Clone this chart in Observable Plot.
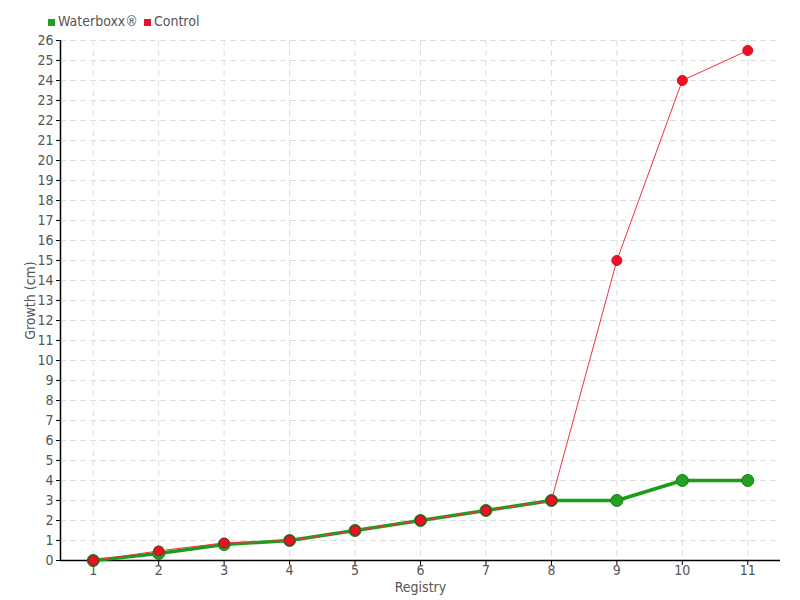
<!DOCTYPE html>
<html><head><meta charset="utf-8">
<script src="https://cdn.jsdelivr.net/npm/d3@7"></script>
<script src="https://cdn.jsdelivr.net/npm/@observablehq/plot@0.6"></script>
<style>
body{margin:0;background:#fff;font-family:"DejaVu Sans",sans-serif;font-stretch:condensed;}
#wrap{position:relative;width:800px;height:600px;}
#legend{position:absolute;left:48px;top:13px;font-size:14px;color:#555;display:flex;align-items:center;gap:6px;z-index:2;font-stretch:condensed;}
#legend span.sw{display:inline-block;width:7px;height:7px;margin-right:3px;}
svg text{font-stretch:condensed;}
</style></head><body>
<div id="wrap"><div id="legend"><span><span class="sw" style="background:#22a022"></span>Waterboxx®</span><span><span class="sw" style="background:#ee1030"></span>Control</span></div></div>
<script>
const registry = [1,2,3,4,5,6,7,8,9,10,11];
const waterboxx = [0,0.35,0.8,1,1.5,2,2.5,3,3,4,4];
const control = [0,0.48,0.88,1,1.5,2,2.5,3,15,24,25.5];
const yTicks = d3.range(0,27);

const wb = registry.map((r,i)=>({x:r,y:waterboxx[i]}));
const ct = registry.map((r,i)=>({x:r,y:control[i]}));
const FONT = "DejaVu Sans, sans-serif";

const chart = Plot.plot({
  width:800,height:600,
  marginLeft:60,marginRight:20,marginTop:40,marginBottom:40,
  style:{fontFamily:FONT,fontSize:"14px",color:"#555",background:"#fff"},
  x:{domain:[0.5,11.5],label:null},
  y:{domain:[0,26],label:null},
  marks:[
    Plot.gridX(registry,{stroke:"#ddd",strokeOpacity:1,strokeDasharray:"6,4"}),
    Plot.gridY(yTicks,{stroke:"#ddd",strokeOpacity:1,strokeDasharray:"6,4"}),
    Plot.axisX({ticks:registry,tickFormat:d=>String(d),tickSize:5,tickPadding:0,stroke:"#000",fill:"#555",fontSize:14,label:null}),
    Plot.axisY({ticks:yTicks,tickSize:4,tickPadding:3,stroke:"#000",fill:"#555",fontSize:14,label:null}),
    Plot.ruleY([0],{stroke:"#000",strokeWidth:1.5}),
    Plot.ruleX([0.5],{stroke:"#000",strokeWidth:1.5}),
    Plot.line(wb,{x:"x",y:"y",stroke:"#1a9e1a",strokeWidth:3.5}),
    Plot.dot(wb,{x:"x",y:"y",r:6,fill:"#22a022",stroke:"#1a7a1a",strokeWidth:1}),
    Plot.line(ct,{x:"x",y:"y",stroke:"#f03045",strokeWidth:1}),
    Plot.dot(ct,{x:"x",y:"y",r:5,fill:"#ee1025",stroke:d=>d.x<=8?"#5a3a10":"#d01020",strokeWidth:1}),
    Plot.text(["Registry"],{frameAnchor:"bottom",dy:31,fill:"#555",fontSize:14}),
    Plot.text(["Growth (cm)"],{frameAnchor:"left",dx:-30,rotate:-90,textAnchor:"middle",fill:"#555",fontSize:14})
  ]
});
document.getElementById("wrap").prepend(chart);
chart.style.position="absolute";chart.style.left="0";chart.style.top="0";
</script>
</body></html>
